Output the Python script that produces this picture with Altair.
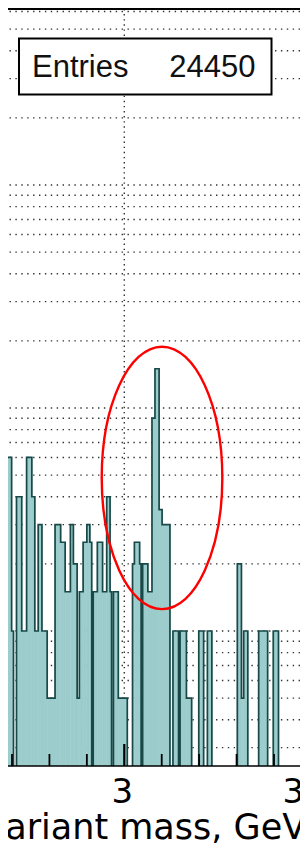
import altair as alt
import pandas as pd

# ---------------- data ----------------
# histogram bin edges (GeV) and bin contents (0 = empty bin)
edges = [2.668, 2.684, 2.699, 2.704, 2.712, 2.726, 2.739, 2.753, 2.761, 2.770,
         2.780, 2.794, 2.815, 2.830, 2.842, 2.856, 2.864, 2.874, 2.880, 2.890,
         2.900, 2.908, 2.913, 2.917, 2.928, 2.942, 2.953, 2.962, 2.966, 2.971,
         2.984, 3.008, 3.022, 3.027, 3.041, 3.045, 3.049, 3.063, 3.074, 3.082,
         3.093, 3.101, 3.122, 3.130, 3.145, 3.149, 3.166, 3.180, 3.199, 3.212,
         3.222, 3.234, 3.302, 3.313, 3.319, 3.330, 3.359, 3.383, 3.398, 3.412,
         3.500]
counts = [19, 60, 10, 0, 40, 10, 60, 40, 10, 30,
          10, 5, 30, 25, 15, 30, 20, 5, 15, 25,
          30, 25, 0, 15, 25, 15, 40, 15, 0, 15,
          5, 0, 20, 25, 20, 0, 20, 15, 90, 150,
          35, 30, 0, 10, 0, 10, 5, 0, 10, 0,
          10, 0, 20, 5, 10, 0, 10, 0, 10, 0]

grid_y_values = [3, 4, 5, 6, 7, 8, 9, 10, 20, 30, 40, 50, 60, 70, 80, 90,
                 100, 200, 300, 400, 500, 600, 700, 800, 900,
                 1000, 2000, 3000, 4000, 5000, 6000]
grid_x_values = [3.0]
minor_ticks = [2.7, 2.8, 2.9, 3.1, 3.2, 3.3, 3.4]
major_ticks = [3.0]
tick_values = [3.0, 3.5]
tick_labels = ["3", "3.5"]
x_title = ["Invariant mass, GeV/c²"]
stats_name = ["Entries"]
stats_value = ["24450"]
mark_x = [3.1008]   # centre of the red annotation ellipse
mark_y = [48.6]

X_DOMAIN = [2.68931, 3.46944]
Y_DOMAIN = [2.481, 6155]
FLOOR = 1.0  # stand-in for empty bins on the log axis (below the visible range)

FILL = "#9ccccc"
LINE = "#184848"
W, H = 292, 757

xs = alt.Scale(domain=X_DOMAIN, nice=False, zero=False)
ys = alt.Scale(type="log", domain=Y_DOMAIN, nice=False)

hist = pd.DataFrame({"lo": edges[:-1], "hi": edges[1:], "v": counts})
filled_bins = hist[hist["v"] > 0]
step_df = pd.DataFrame({
    "m": edges,
    "v": [c if c > 0 else FLOOR for c in counts] + [FLOOR],
})
one = pd.DataFrame({"k": [0]})

grid_h = alt.Chart(pd.DataFrame({"g": grid_y_values})).mark_rule(
    color="#333333", strokeWidth=1.4, strokeDash=[1.4, 4.5]
).encode(y=alt.Y("g:Q", scale=ys, axis=None))

grid_v = alt.Chart(pd.DataFrame({"g": grid_x_values})).mark_rule(
    color="#333333", strokeWidth=1.4, strokeDash=[1.4, 3.7]
).encode(x=alt.X("g:Q", scale=xs, axis=None))

fill = alt.Chart(filled_bins).mark_rect(
    fill=FILL, stroke=FILL, strokeWidth=0.6, clip=True, opacity=1
).encode(
    x=alt.X("lo:Q", scale=xs, axis=None),
    x2="hi:Q",
    y=alt.Y("v:Q", scale=ys, axis=None),
    y2=alt.value(H),
)

outline = alt.Chart(step_df).mark_line(
    color=LINE, strokeWidth=1.7, interpolate="step-after", clip=True,
    strokeJoin="miter"
).encode(
    x=alt.X("m:Q", scale=xs, axis=None),
    y=alt.Y("v:Q", scale=ys, axis=None),
)

axis_line = alt.Chart(one).mark_rule(color="black", strokeWidth=1.6).encode(
    x=alt.value(0), x2=alt.value(W), y=alt.value(H)
)
top_line = alt.Chart(one).mark_rule(color="black", strokeWidth=2).encode(
    x=alt.value(0), x2=alt.value(W), y=alt.value(0)
)

minor = alt.Chart(pd.DataFrame({"t": minor_ticks})).mark_rule(
    color="black", strokeWidth=1.8
).encode(x=alt.X("t:Q", scale=xs, axis=None), y=alt.value(H), y2=alt.value(H - 12))

major = alt.Chart(pd.DataFrame({"t": major_ticks})).mark_rule(
    color="black", strokeWidth=2.2
).encode(x=alt.X("t:Q", scale=xs, axis=None), y=alt.value(H), y2=alt.value(H - 22))

labels = alt.Chart(pd.DataFrame({"t": tick_values, "lab": tick_labels})).mark_text(
    font="DejaVu Sans", fontSize=34, baseline="alphabetic", align="center",
    color="black", dx=-2
).encode(x=alt.X("t:Q", scale=xs, axis=None), y=alt.value(794), text="lab:N")

title = alt.Chart(pd.DataFrame({"t": x_title})).mark_text(
    font="DejaVu Sans", fontSize=35, baseline="alphabetic", align="left", color="black"
).encode(x=alt.value(-56), y=alt.value(830), text="t:N")

ELLIPSE = "M -0.4596 0 A 0.4596 1 0 1 0 0.4596 0 A 0.4596 1 0 1 0 -0.4596 0 Z"
ellipse = alt.Chart(pd.DataFrame({"x": mark_x, "y": mark_y})).mark_point(
    shape=ELLIPSE, size=68854, filled=False, color="#ff0000", stroke="#ff0000",
    strokeWidth=2.4, opacity=1
).encode(x=alt.X("x:Q", scale=xs, axis=None), y=alt.Y("y:Q", scale=ys, axis=None))

box = alt.Chart(one).mark_rect(fill="white", stroke="black", strokeWidth=2).encode(
    x=alt.value(11), x2=alt.value(263.5), y=alt.value(29.5), y2=alt.value(85.5)
)
box_name = alt.Chart(pd.DataFrame({"t": stats_name})).mark_text(
    font="Liberation Sans", fontSize=31, align="left", baseline="alphabetic", color="#111111"
).encode(x=alt.value(24), y=alt.value(68), text="t:N")
box_value = alt.Chart(pd.DataFrame({"t": stats_value})).mark_text(
    font="Liberation Sans", fontSize=31, align="right", baseline="alphabetic", color="#111111"
).encode(x=alt.value(247.5), y=alt.value(68), text="t:N")

chart = alt.layer(
    grid_h, grid_v, fill, outline, axis_line, top_line, minor, major,
    labels, title, ellipse, box, box_name, box_value
).properties(
    width=W, height=H,
    padding={"left": 0, "right": 0, "top": 1, "bottom": 80},
    autosize=alt.AutoSizeParams(type="none"),
).configure_view(stroke=None)

chart.save("out.html", embed_options={"renderer": "svg", "actions": False})
